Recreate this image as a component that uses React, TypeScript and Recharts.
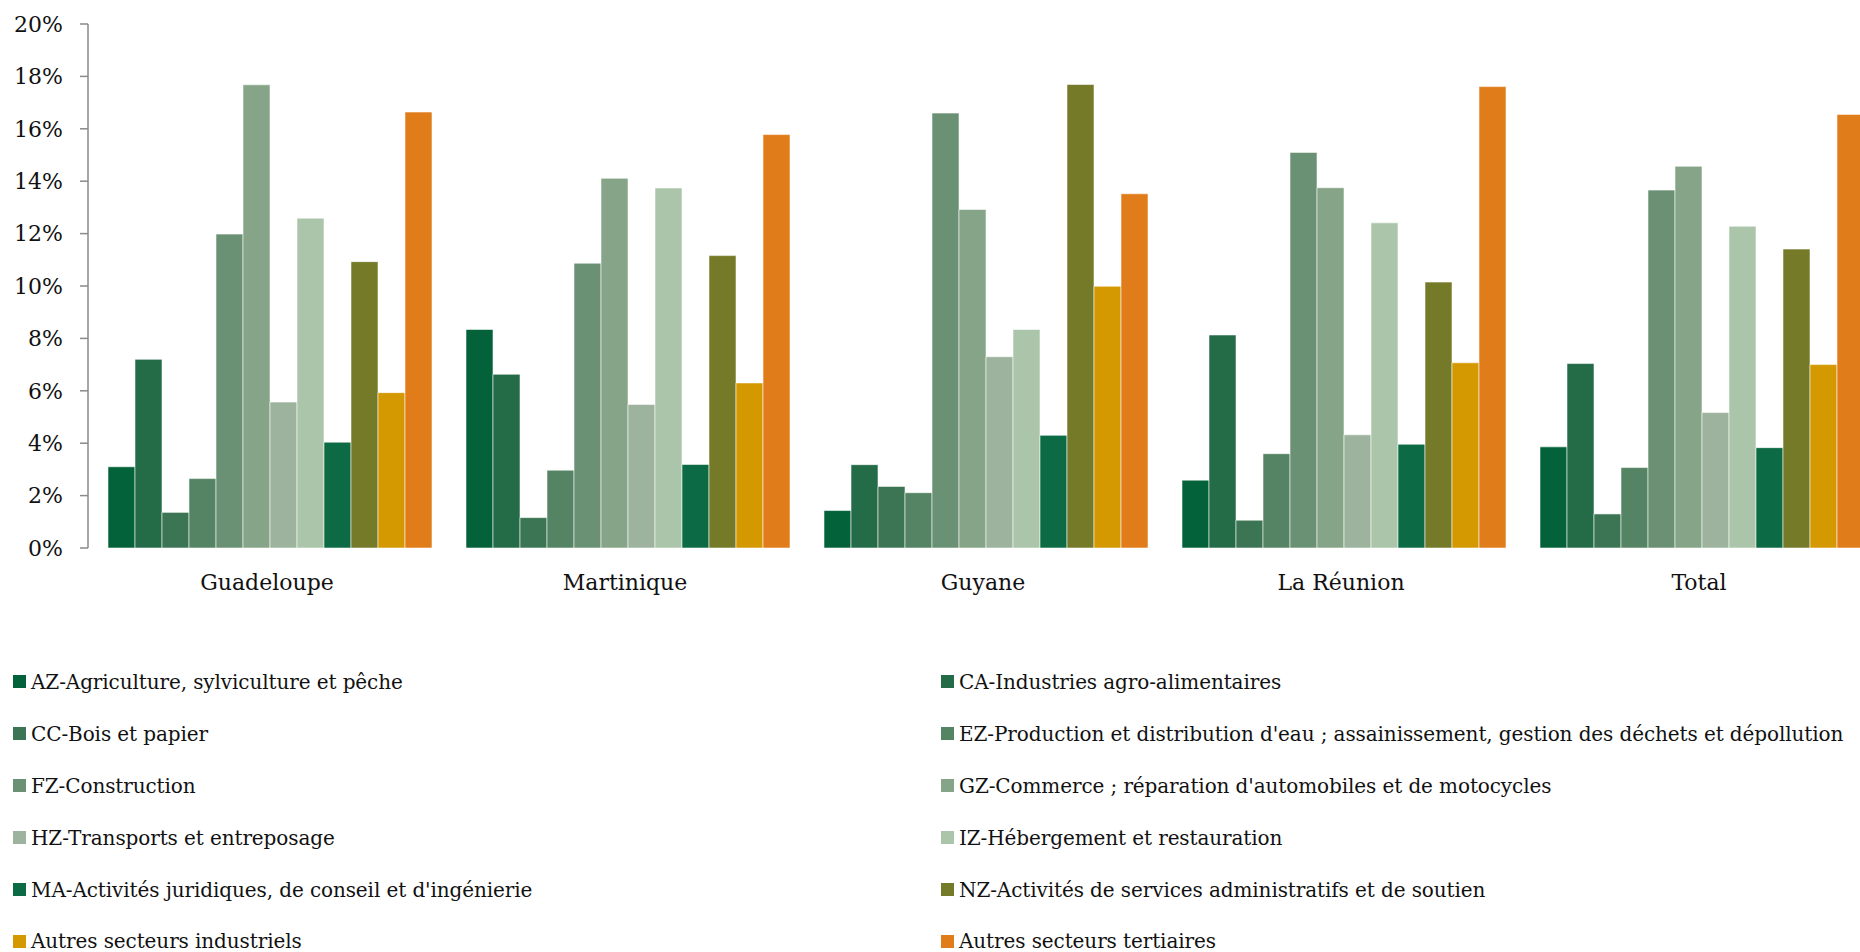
import { BarChart, Bar, XAxis, YAxis, Legend } from 'recharts';

const regions = ['Guadeloupe', 'Martinique', 'Guyane', 'La Réunion', 'Total'];

// share of each sector (%) for each region, same order as regions
const az = [3.1, 8.34, 1.43, 2.59, 3.86];
const ca = [7.2, 6.63, 3.18, 8.13, 7.04];
const cc = [1.36, 1.16, 2.35, 1.06, 1.3];
const ez = [2.65, 2.97, 2.11, 3.6, 3.07];
const fz = [11.98, 10.87, 16.6, 15.1, 13.66];
const gz = [17.68, 14.11, 12.92, 13.75, 14.57];
const hz = [5.57, 5.48, 7.3, 4.32, 5.17];
const iz = [12.59, 13.74, 8.34, 12.41, 12.28];
const ma = [4.04, 3.19, 4.3, 3.96, 3.83];
const nz = [10.93, 11.16, 17.69, 10.15, 11.41];
const autresInd = [5.93, 6.3, 9.99, 7.07, 7.0];
const autresTert = [16.64, 15.78, 13.52, 17.61, 16.55];

const yTicks = [0, 2, 4, 6, 8, 10, 12, 14, 16, 18, 20];
const boundaryTicks = [0, 1, 2, 3, 4, 5];

const SERIES = [
  { key: 'az', name: 'AZ-Agriculture, sylviculture et pêche', values: az, color: '#04623A' },
  { key: 'ca', name: 'CA-Industries agro-alimentaires', values: ca, color: '#246B48' },
  { key: 'cc', name: 'CC-Bois et papier', values: cc, color: '#3C7553' },
  { key: 'ez', name: "EZ-Production et distribution d'eau ; assainissement, gestion des déchets et dépollution", values: ez, color: '#548463' },
  { key: 'fz', name: 'FZ-Construction', values: fz, color: '#6B9175' },
  { key: 'gz', name: "GZ-Commerce ; réparation d'automobiles et de motocycles", values: gz, color: '#86A487' },
  { key: 'hz', name: 'HZ-Transports et entreposage', values: hz, color: '#9DB39E' },
  { key: 'iz', name: 'IZ-Hébergement et restauration', values: iz, color: '#ABC5AA' },
  { key: 'ma', name: "MA-Activités juridiques, de conseil et d'ingénierie", values: ma, color: '#0C6B45' },
  { key: 'nz', name: 'NZ-Activités de services administratifs et de soutien', values: nz, color: '#747A28' },
  { key: 'ai', name: 'Autres secteurs industriels', values: autresInd, color: '#D49800' },
  { key: 'at', name: 'Autres secteurs tertiaires', values: autresTert, color: '#E17C1A' },
];

const data = regions.map((region, i) => {
  const row: Record<string, string | number> = { region };
  SERIES.forEach((s) => {
    row[s.key] = s.values[i];
  });
  return row;
});

const FONT = '"DejaVu Serif", serif';
const AXIS = '#8a8a8a';

const renderLegend = () => (
  <div
    style={{
      display: 'grid',
      gridTemplateColumns: '928px 1fr',
      gridAutoRows: '51.9px',
      paddingLeft: 13,
      fontFamily: FONT,
      fontSize: 20,
      letterSpacing: -0.1,
      lineHeight: '20px',
      color: '#111',
    }}
  >
    {SERIES.map((s) => (
      <div key={s.key} style={{ display: 'flex', alignItems: 'center', whiteSpace: 'nowrap' }}>
        <span style={{ width: 13, height: 13, background: s.color, marginRight: 5, flex: 'none' }} />
        {s.name}
      </div>
    ))}
  </div>
);

const App = () => {
  return (
    <div style={{ position: 'fixed', left: 0, top: 0, width: 1860, height: 952, overflow: 'hidden', background: '#fff' }}>
      <BarChart
        width={1900}
        height={952}
        data={data}
        margin={{ top: 24, right: 22, left: 0, bottom: 0 }}
        barCategoryGap={20}
        barGap={0}
      >
        <XAxis
          xAxisId="a"
          type="number"
          domain={[0, 5]}
          ticks={boundaryTicks}
          interval={0}
          height={0}
          tick={false}
          tickSize={8}
          axisLine={{ stroke: AXIS, strokeWidth: 1.5 }}
          tickLine={{ stroke: AXIS, strokeWidth: 1.5 }}
        />
        <XAxis
          xAxisId="b"
          dataKey="region"
          height={60}
          axisLine={false}
          tickLine={false}
          tickSize={0}
          tickMargin={26}
          tick={{ fill: '#111', fontSize: 22, fontFamily: FONT }}
        />
        <YAxis
          width={88}
          domain={[0, 20]}
          ticks={yTicks}
          interval={0}
          tickFormatter={(v: number) => `${v}%`}
          tickSize={8}
          tickMargin={17}
          axisLine={{ stroke: AXIS, strokeWidth: 1.5 }}
          tickLine={{ stroke: AXIS, strokeWidth: 1.5 }}
          tick={{ fill: '#111', fontSize: 22, fontFamily: FONT }}
        />
        <Legend
          verticalAlign="bottom"
          content={renderLegend}
          wrapperStyle={{ top: 656, bottom: 'auto', left: 0, width: 1860, height: 344 }}
        />
        {SERIES.map((s) => (
          <Bar
            key={s.key}
            xAxisId="b"
            dataKey={s.key}
            name={s.name}
            fill={s.color}
            stroke="rgba(255,255,255,0.55)"
            strokeWidth={1}
            isAnimationActive={false}
          />
        ))}
      </BarChart>
    </div>
  );
};

export default App;
